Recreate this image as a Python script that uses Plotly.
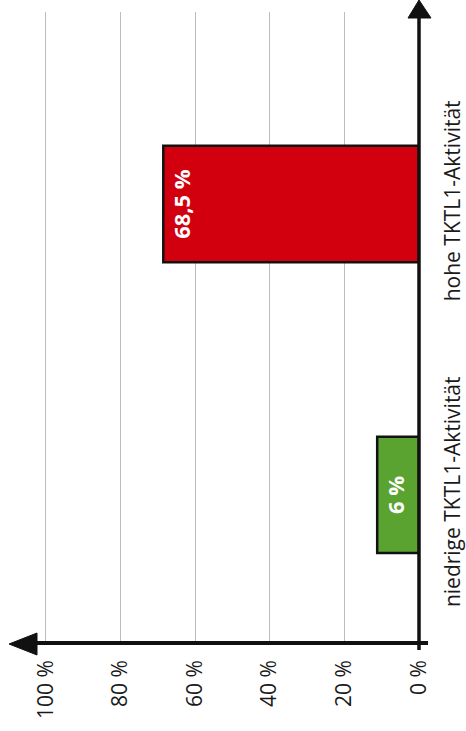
import plotly.graph_objects as go

# Data
categories = ["niedrige TKTL1-Aktivität", "hohe TKTL1-Aktivität"]
bar_lengths = [11.2, 68.5]          # drawn bar lengths in % (as in the picture)
bar_labels = ["6 %", "68,5 %"]
bar_colors = ["#5aa331", "#d2000f"]
tick_values = [0, 20, 40, 60, 80, 100]
tick_labels = ["0 %", "20 %", "40 %", "60 %", "80 %", "100 %"]

W, H = 466, 731
L, R, T, B = 10, 47, 12, 88
pw, ph = W - L - R, H - T - B

def px(X):
    return (X - L) / pw

def py(Y):
    return (H - B - Y) / ph

fig = go.Figure()
fig.add_trace(go.Bar(
    y=[0, 1], x=bar_lengths, orientation="h",
    width=0.40,
    marker=dict(color=bar_colors, line=dict(color="#111111", width=2.5)),
    text=bar_labels, textposition="inside", insidetextanchor="end",
    textangle=-90, constraintext="none",
    textfont=dict(family="Open Sans", size=22, color="white", weight="bold"),
    hoverinfo="skip",
))

x_left = pw / ((W - R - 45.7) / 100)

fig.update_layout(
    width=W, height=H,
    margin=dict(l=L, r=R, t=T, b=B),
    paper_bgcolor="white", plot_bgcolor="white",
    showlegend=False,
    xaxis=dict(
        range=[x_left, 0],
        tickvals=tick_values, ticktext=tick_labels,
        tickangle=-90, automargin=False,
        showgrid=True, gridcolor="#bdbdbd", gridwidth=1,
        zeroline=False, showline=False,
        ticks="", ticklabelstandoff=12,
        tickfont=dict(family="Open Sans", size=21, color="#1a1a1a"),
        fixedrange=True,
    ),
    yaxis=dict(
        range=[-0.509, 1.66],
        tickvals=[0, 1], ticktext=categories,
        side="right", tickangle=-90, automargin=False,
        showgrid=False, zeroline=False, showline=False,
        ticks="", ticklabelstandoff=19,
        tickfont=dict(family="Open Sans", size=21, color="#1a1a1a"),
        fixedrange=True,
    ),
)

axis_color = "#111111"
# horizontal value axis line
fig.add_shape(type="line", xref="paper", yref="paper",
              x0=px(30), x1=px(428), y0=py(643), y1=py(643),
              line=dict(color=axis_color, width=4))
# vertical category axis line
fig.add_shape(type="line", xref="paper", yref="paper",
              x0=px(419), x1=px(419), y0=py(650), y1=py(10),
              line=dict(color=axis_color, width=3.5))
# arrowheads
fig.add_shape(type="path", xref="paper", yref="paper",
              path=f"M {px(37)} {py(633)} L {px(37)} {py(655)} L {px(9)} {py(644)} Z",
              fillcolor=axis_color, line=dict(color=axis_color, width=1))
fig.add_shape(type="path", xref="paper", yref="paper",
              path=f"M {px(408)} {py(18)} L {px(431)} {py(18)} L {px(419)} {py(0)} Z",
              fillcolor=axis_color, line=dict(color=axis_color, width=1))

fig.write_html("out.html")
